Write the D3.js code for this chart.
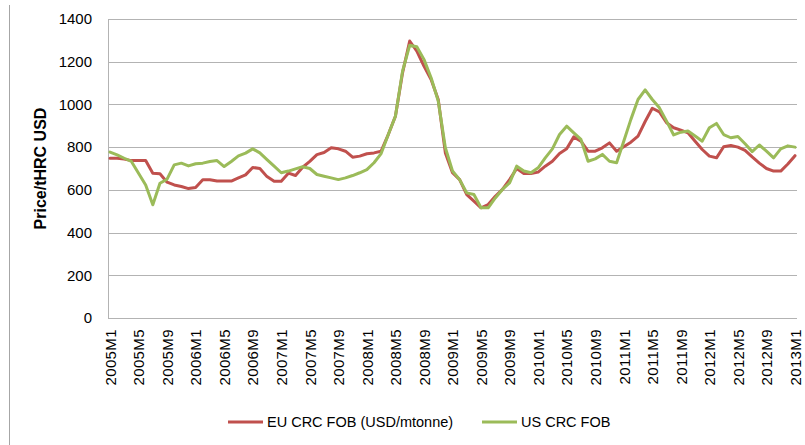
<!DOCTYPE html>
<html>
<head>
<meta charset="utf-8">
<script src="https://cdn.jsdelivr.net/npm/d3@7"></script>
<style>
  body { margin: 0; background: #fff; }
  svg { display: block; font-family: "Liberation Sans", Arial, sans-serif; }
</style>
</head>
<body>
<script>
// months 2005M1 .. 2013M1
const months = [
  "2005M1","2005M2","2005M3","2005M4","2005M5","2005M6","2005M7","2005M8","2005M9","2005M10","2005M11","2005M12",
  "2006M1","2006M2","2006M3","2006M4","2006M5","2006M6","2006M7","2006M8","2006M9","2006M10","2006M11","2006M12",
  "2007M1","2007M2","2007M3","2007M4","2007M5","2007M6","2007M7","2007M8","2007M9","2007M10","2007M11","2007M12",
  "2008M1","2008M2","2008M3","2008M4","2008M5","2008M6","2008M7","2008M8","2008M9","2008M10","2008M11","2008M12",
  "2009M1","2009M2","2009M3","2009M4","2009M5","2009M6","2009M7","2009M8","2009M9","2009M10","2009M11","2009M12",
  "2010M1","2010M2","2010M3","2010M4","2010M5","2010M6","2010M7","2010M8","2010M9","2010M10","2010M11","2010M12",
  "2011M1","2011M2","2011M3","2011M4","2011M5","2011M6","2011M7","2011M8","2011M9","2011M10","2011M11","2011M12",
  "2012M1","2012M2","2012M3","2012M4","2012M5","2012M6","2012M7","2012M8","2012M9","2012M10","2012M11","2012M12",
  "2013M1"
];

const tickLabels = ["2005M1","2005M5","2005M9","2006M1","2006M5","2006M9","2007M1","2007M5","2007M9",
  "2008M1","2008M5","2008M9","2009M1","2009M5","2009M9","2010M1","2010M5","2010M9",
  "2011M1","2011M5","2011M9","2012M1","2012M5","2012M9","2013M1"];

const yTicks = [0, 200, 400, 600, 800, 1000, 1200, 1400];

const euCrc = [
  748, 748, 744, 737, 737, 737, 678, 675, 636, 623, 616, 606,
  611, 647, 647, 641, 641, 641, 656, 670, 705, 700, 662, 640,
  640, 678, 667, 706, 733, 765, 775, 797, 792, 781, 753, 758,
  769, 773, 781, 859, 945, 1148, 1297, 1250, 1180, 1117, 1023, 773,
  680, 648, 578, 547, 516, 531, 570, 602, 648, 700, 677, 677,
  683, 711, 734, 770, 792, 848, 828, 781, 781, 797, 820, 781,
  802, 823, 852, 920, 982, 965, 914, 891, 880, 867, 828, 789,
  758, 750, 802, 808, 800, 785, 754, 725, 700, 688, 688, 721,
  760
];

const usCrc = [
  777, 764, 748, 733, 678, 623, 530, 631, 650, 717, 725, 712,
  722, 725, 733, 737, 709, 733, 759, 772, 792, 773, 742, 711,
  680, 688, 698, 708, 700, 672, 664, 656, 648, 656, 667, 680,
  695, 727, 770, 859, 945, 1156, 1277, 1270, 1211, 1125, 1016, 797,
  688, 648, 586, 578, 516, 516, 562, 602, 633, 711, 688, 680,
  703, 750, 792, 859, 898, 867, 836, 734, 745, 766, 734, 727,
  828, 930, 1023, 1068, 1023, 984, 922, 857, 870, 876, 852, 828,
  891, 911, 859, 844, 850, 816, 779, 810, 781, 750, 792, 806,
  800
];

const seriesNames = ["EU CRC FOB (USD/mtonne)", "US CRC FOB"];
const seriesColors = ["#c0504d", "#9bbb59"];

const width = 805, height = 445;
const plot = {left: 108, right: 797, top: 19, bottom: 318};

const svg = d3.select('body').append('svg')
  .attr('width', width)
  .attr('height', height);

// outer frame line on the left
svg.append('line')
  .attr('x1', 9.5).attr('x2', 9.5)
  .attr('y1', 5).attr('y2', 445)
  .attr('stroke', '#a6a6a6').attr('stroke-width', 1);

const x = d3.scalePoint().domain(months).range([110, 795]);
const y = d3.scaleLinear().domain([0, 1400]).range([plot.bottom, plot.top]);

// gridlines + y labels
const yAxis = d3.axisLeft(y).tickValues(yTicks).tickFormat(d3.format('d'))
  .tickSize(-(plot.right - plot.left)).tickPadding(16);
const gy = svg.append('g')
  .attr('transform', `translate(${plot.left},0)`)
  .call(yAxis);
gy.select('.domain').remove();
gy.selectAll('.tick line').attr('stroke', '#b3b3b3').attr('shape-rendering', 'crispEdges');
gy.selectAll('.tick text').attr('font-size', 15).attr('fill', '#000')
  .attr('font-family', '"Liberation Sans", Arial, sans-serif');
svg.append('line')
  .attr('x1', plot.left + 0.5).attr('x2', plot.left + 0.5)
  .attr('y1', plot.top).attr('y2', plot.bottom)
  .attr('stroke', '#b3b3b3');

// x axis labels
const xAxis = d3.axisBottom(x).tickValues(tickLabels).tickSize(0).tickPadding(0);
const gx = svg.append('g')
  .attr('transform', `translate(0,${plot.bottom})`)
  .call(xAxis);
gx.select('.domain').remove();
gx.selectAll('.tick text')
  .attr('font-size', 15)
  .attr('letter-spacing', 0.4)
  .attr('fill', '#000')
  .attr('font-family', '"Liberation Sans", Arial, sans-serif')
  .attr('text-anchor', 'end')
  .attr('transform', 'rotate(-90)')
  .attr('x', -11)
  .attr('y', 0)
  .attr('dy', '0.35em');

// y axis title
svg.append('text')
  .attr('transform', `translate(46,${(plot.top + plot.bottom) / 2}) rotate(-90)`)
  .attr('text-anchor', 'middle')
  .attr('font-size', 16)
  .attr('font-weight', 'bold')
  .text('Price/tHRC USD');

// lines
const line = d3.line()
  .x((d, i) => x(months[i]))
  .y(d => y(d));

[euCrc, usCrc].forEach((s, k) => {
  svg.append('path')
    .datum(s)
    .attr('fill', 'none')
    .attr('stroke', seriesColors[k])
    .attr('stroke-width', 3)
    .attr('stroke-linejoin', 'round')
    .attr('stroke-linecap', 'round')
    .attr('d', line);
});

// legend
const legendX = [228, 482];
const leg = svg.append('g').selectAll('g').data(seriesNames).join('g')
  .attr('transform', (d, i) => `translate(${legendX[i]},422)`);
leg.append('line')
  .attr('x1', 0).attr('x2', 35).attr('y1', 0).attr('y2', 0)
  .attr('stroke', (d, i) => seriesColors[i]).attr('stroke-width', 3);
leg.append('text')
  .attr('x', 39).attr('dy', '0.35em')
  .attr('font-size', 14.5)
  .text(d => d);
</script>
</body>
</html>
